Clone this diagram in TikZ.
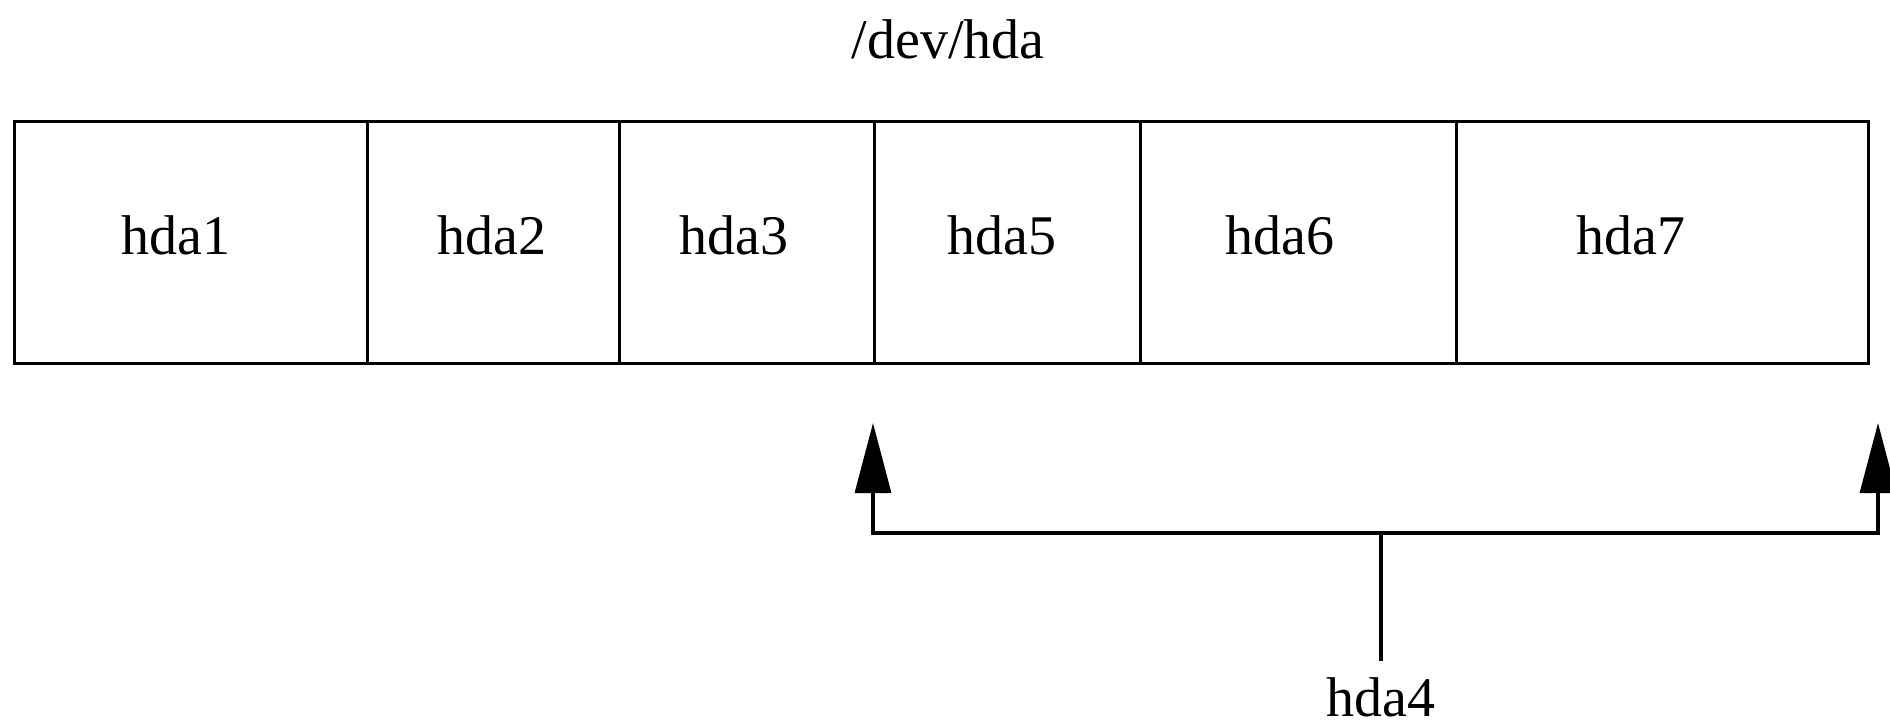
\documentclass[tikz,border=0pt]{standalone}
\usepackage{fontspec}
\setmainfont{Liberation Serif}
\usetikzlibrary{arrows.meta}
\begin{document}
\begin{tikzpicture}[x=0.5pt,y=-0.5pt,
  cell/.style={draw=black,line width=1.6pt,inner sep=0pt,minimum height=121pt,anchor=north west},
  lbl/.style={inner sep=0pt,anchor=base,font=\fontsize{28}{34}\selectfont},
  conn/.style={draw=black,line width=1.6pt},
  arr/.style={conn,-{Triangle[length=35pt,width=18pt]}}]
\useasboundingbox (0,0) rectangle (1890,728);
% cells
\node[cell,minimum width=176.5pt] (c1) at (13,120) {};
\node[cell,minimum width=126pt] (c2) at (366,120) {};
\node[cell,minimum width=127.5pt] (c3) at (618,120) {};
\node[cell,minimum width=133pt] (c5) at (873,120) {};
\node[cell,minimum width=158pt] (c6) at (1139,120) {};
\node[cell,minimum width=206pt] (c7) at (1455,120) {};
% labels
\node[lbl] (title) at (948,58) {/dev/hda};
\node[lbl] (t1) at (176,254) {hda1};
\node[lbl] (t2) at (492,254) {hda2};
\node[lbl] (t3) at (734,254) {hda3};
\node[lbl] (t5) at (1002,254) {hda5};
\node[lbl] (t6) at (1280,254) {hda6};
\node[lbl] (t7) at (1631,254) {hda7};
\node[lbl,inner ysep=8pt] (hda4) at (1381,716) {hda4};
% connectors
\coordinate (j) at (1381,533);
\coordinate (lt) at (873,423);
\coordinate (rt) at (1878,423);
\draw[conn] (hda4.north) -- (j);
\draw[arr] (j) -| (lt);
\draw[arr] (j) -| (rt);
\end{tikzpicture}
\end{document}
